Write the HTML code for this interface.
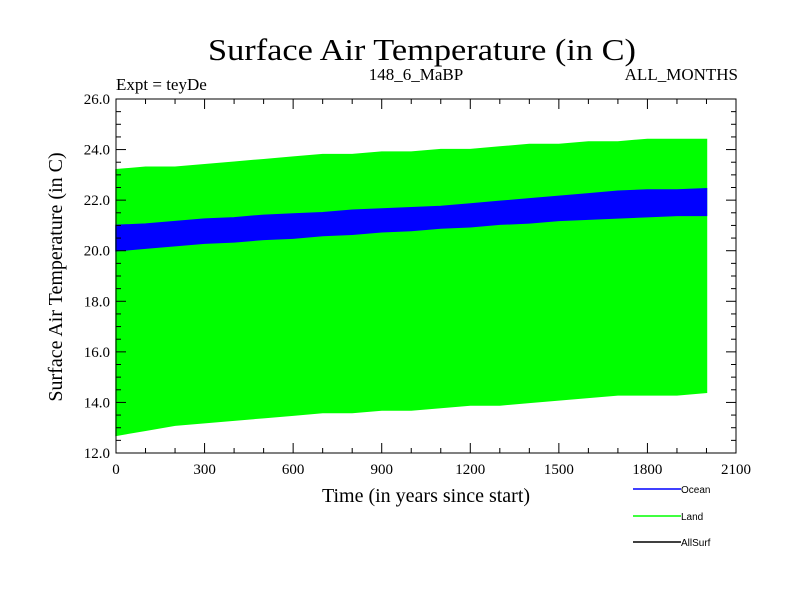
<!DOCTYPE html>
<html><head><meta charset="utf-8"><style>
html,body{margin:0;padding:0;background:#fff;}
svg{display:block;font-family:"Liberation Serif",serif;}
</style></head><body>
<svg id="chart" width="800" height="600" viewBox="0 0 800 600">
<text x="422" y="60" font-size="31" text-anchor="middle" textLength="428" lengthAdjust="spacingAndGlyphs">Surface Air Temperature (in C)</text>
<text x="116" y="90" font-size="17">Expt = teyDe</text>
<text x="416" y="80" font-size="17" text-anchor="middle">148_6_MaBP</text>
<text x="738" y="80" font-size="17" text-anchor="end">ALL_MONTHS</text>
<g id="plot"></g>
<text x="426" y="502" font-size="20" text-anchor="middle">Time (in years since start)</text>
<text transform="translate(62,277) rotate(-90)" font-size="20" text-anchor="middle">Surface Air Temperature (in C)</text>
<g font-family="Liberation Sans, sans-serif" font-size="10">
<g><line x1="633" y1="489" x2="681" y2="489" stroke="#0000ff" stroke-width="1.5"/><text x="681" y="493">Ocean</text></g>
<g><line x1="633" y1="516" x2="681" y2="516" stroke="#00ff00" stroke-width="1.5"/><text x="681" y="520">Land</text></g>
<g><line x1="633" y1="542" x2="681" y2="542" stroke="#000" stroke-width="1.5"/><text x="681" y="546">AllSurf</text></g>
</g>
</svg>
<script>
const years = [0,100,200,300,400,500,600,700,800,900,1000,1100,1200,1300,1400,1500,1600,1700,1800,1900,2000];
const landUpper = [23.2,23.3,23.3,23.4,23.5,23.6,23.7,23.8,23.8,23.9,23.9,24.0,24.0,24.1,24.2,24.2,24.3,24.3,24.4,24.4,24.4];
const landLower = [12.7,12.9,13.1,13.2,13.3,13.4,13.5,13.6,13.6,13.7,13.7,13.8,13.9,13.9,14.0,14.1,14.2,14.3,14.3,14.3,14.4];
const oceanUpper = [21.0,21.05,21.15,21.25,21.3,21.4,21.45,21.5,21.6,21.65,21.7,21.75,21.85,21.95,22.05,22.15,22.25,22.35,22.4,22.4,22.45];
const oceanLower = [20.0,20.1,20.2,20.3,20.35,20.45,20.5,20.6,20.65,20.75,20.8,20.9,20.95,21.05,21.1,21.2,21.25,21.3,21.35,21.4,21.4];
const xTicks = [0,300,600,900,1200,1500,1800,2100];
const yTicks = [12,14,16,18,20,22,24,26];

const L=116,R=736,T=99,B=453, X0=0,X1=2100,Y0=12,Y1=26;
const sx=v=>L+(v-X0)/(X1-X0)*(R-L);
const sy=v=>B-(v-Y0)/(Y1-Y0)*(B-T);
const NS="http://www.w3.org/2000/svg";
const g=document.getElementById('plot');
function mk(tag,attrs){const e=document.createElementNS(NS,tag);for(const k in attrs)e.setAttribute(k,attrs[k]);g.appendChild(e);return e;}
function band(up,lo,col){
  let p=[];
  for(let i=0;i<years.length;i++)p.push(sx(years[i])+','+sy(up[i]));
  for(let i=years.length-1;i>=0;i--)p.push(sx(years[i])+','+sy(lo[i]));
  return mk('polygon',{points:p.join(' '),fill:col,stroke:col,'stroke-width':1.5});
}
const lb=band(landUpper,landLower,'#00ff00');


const ob=band(oceanUpper,oceanLower,'#0000ff');


const fr=mk('rect',{x:L,y:T,width:R-L,height:B-T,fill:'none',stroke:'#000','stroke-width':1});


// minor x ticks every 100
for(let v=X0;v<=X1;v+=100){
  const major=xTicks.includes(v), len=major?10:5;
  mk('line',{x1:sx(v),x2:sx(v),y1:B,y2:B-len,stroke:'#000'});
  mk('line',{x1:sx(v),x2:sx(v),y1:T,y2:T+len,stroke:'#000'});
}
for(let v=Y0;v<=Y1+0.001;v+=0.5){
  const major=yTicks.includes(v), len=major?10:5;
  mk('line',{x1:L,x2:L+len,y1:sy(v),y2:sy(v),stroke:'#000'});
  mk('line',{x1:R,x2:R-len,y1:sy(v),y2:sy(v),stroke:'#000'});
}
xTicks.forEach(v=>{
  const t=mk('text',{x:sx(v),y:B+21,'font-size':15,'text-anchor':'middle'});
  t.textContent=v;
  
  
});
yTicks.forEach(v=>{
  const t=mk('text',{x:L-6,y:sy(v)+5,'font-size':15,'text-anchor':'end'});
  t.textContent=v.toFixed(1);
  
  
});
</script>
</body></html>
